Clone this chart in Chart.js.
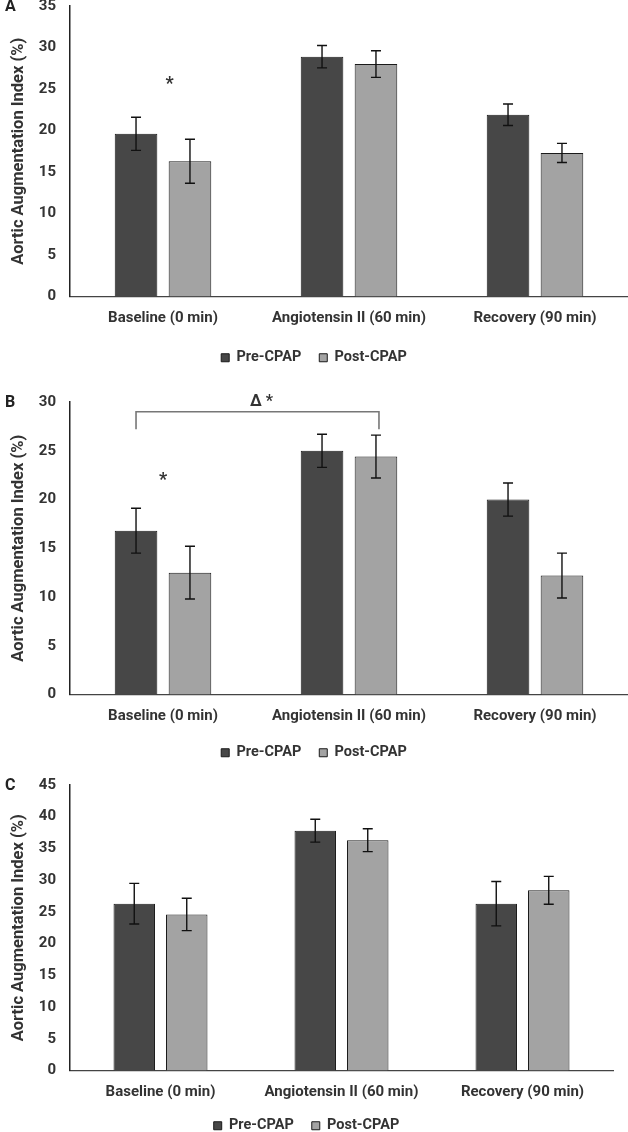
<!DOCTYPE html>
<html>
<head>
<meta charset="utf-8">
<script src="https://cdn.jsdelivr.net/npm/chart.js@4.4.1/dist/chart.umd.min.js"></script>
<style>
  body { margin: 0; background: #fff; width: 628px; height: 1132px; position: relative; overflow: hidden; }
  .panel { position: absolute; left: 0; width: 628px; }
</style>
</head>
<body>
<div class="panel" style="top:-17px;height:392px"><canvas id="chartA"></canvas></div>
<div class="panel" style="top:379px;height:391px"><canvas id="chartB"></canvas></div>
<div class="panel" style="top:762px;height:381px"><canvas id="chartC"></canvas></div>
<script>
// categories and series
const categories = ['Baseline (0 min)', 'Angiotensin II (60 min)', 'Recovery (90 min)'];
const seriesNames = ['Pre-CPAP', 'Post-CPAP'];

// panel A
const aPre = [19.6, 28.9, 21.9];
const aPreErr = [2.0, 1.35, 1.3];
const aPost = [16.3, 28.0, 17.3];
const aPostErr = [2.65, 1.6, 1.15];

// panel B
const bPre = [16.8, 25.0, 20.0];
const bPreErr = [2.3, 1.7, 1.7];
const bPost = [12.5, 24.4, 12.2];
const bPostErr = [2.7, 2.2, 2.3];

// panel C
const cPre = [26.3, 37.8, 26.3];
const cPreErr = [3.2, 1.8, 3.5];
const cPost = [24.6, 36.3, 28.4];
const cPostErr = [2.55, 1.8, 2.2];

// y axis ranges
const yMaxA = 35, yMaxB = 30, yMaxC = 45;

const FONT = 'Roboto, "DejaVu Sans", sans-serif';
const TXT = '#333';

// error bars + stars / bracket / panel letter
const extras = {
  id: 'extras',
  afterDatasetsDraw(chart, args, o) {
    const ctx = chart.ctx, ys = chart.scales.y, xs = chart.scales.x;
    ctx.save();
    // error bars
    ctx.strokeStyle = '#111';
    ctx.lineWidth = 1.4;
    chart.data.datasets.forEach((ds, i) => {
      chart.getDatasetMeta(i).data.forEach((bar, j) => {
        const t = ys.getPixelForValue(ds.data[j] + o.errors[i][j]);
        const b = ys.getPixelForValue(ds.data[j] - o.errors[i][j]);
        ctx.beginPath();
        ctx.moveTo(bar.x, t); ctx.lineTo(bar.x, b);
        ctx.moveTo(bar.x - 5, t); ctx.lineTo(bar.x + 5, t);
        ctx.moveTo(bar.x - 5, b); ctx.lineTo(bar.x + 5, b);
        ctx.stroke();
      });
    });
    // stars
    ctx.fillStyle = TXT;
    ctx.textAlign = 'center';
    ctx.textBaseline = 'middle';
    ctx.font = 'bold 18px ' + FONT;
    (o.stars || []).forEach(s => {
      ctx.fillText('*', xs.getPixelForValue(s.cat + s.dx), ys.getPixelForValue(s.value));
    });
    // bracket
    if (o.bracket) {
      const br = o.bracket;
      const x1 = chart.getDatasetMeta(br.from[0]).data[br.from[1]].x;
      const x2 = chart.getDatasetMeta(br.to[0]).data[br.to[1]].x + 3;
      const yt = ys.getPixelForValue(br.top), yb = ys.getPixelForValue(br.foot);
      ctx.strokeStyle = '#777';
      ctx.lineWidth = 1.6;
      ctx.beginPath();
      ctx.moveTo(x1, yb); ctx.lineTo(x1, yt); ctx.lineTo(x2, yt); ctx.lineTo(x2, yb);
      ctx.stroke();
      ctx.font = 'bold 16px ' + FONT;
      ctx.fillText(br.label, (x1 + x2) / 2 + 4, ys.getPixelForValue(br.labelValue));
    }
    // panel letter
    ctx.textAlign = 'left';
    ctx.font = 'bold 16px ' + FONT;
    ctx.fillStyle = '#222';
    ctx.fillText(o.letter, 5, ys.getPixelForValue(ys.max) + 1);
    ctx.restore();
  }
};

function makeChart(id, pre, post, preErr, postErr, yMax, marks, padRight, xHeight) {
  return new Chart(document.getElementById(id), {
    type: 'bar',
    data: {
      labels: categories,
      datasets: [
        { label: seriesNames[0], data: pre, backgroundColor: '#474747', borderColor: '#1a1a1a', borderWidth: 1,
          categoryPercentage: 0.58, barPercentage: 0.79 },
        { label: seriesNames[1], data: post, backgroundColor: '#a3a3a3', borderColor: '#1a1a1a', borderWidth: 1,
          categoryPercentage: 0.58, barPercentage: 0.79 }
      ]
    },
    options: {
      responsive: true,
      maintainAspectRatio: false,
      animation: false,
      layout: { padding: { top: 23, right: padRight, left: 0, bottom: 0 } },
      scales: {
        x: {
          grid: { display: false, drawTicks: false },
          border: { display: true, color: '#444', width: 1.2 },
          ticks: { color: TXT, padding: 13, font: { family: FONT, size: 15, weight: 'bold' } },
          afterFit(s) { s.height = xHeight; }
        },
        y: {
          min: 0, max: yMax,
          grid: { display: false, drawTicks: false },
          border: { display: true, color: '#222', width: 1.5 },
          ticks: { stepSize: 5, color: TXT, padding: 14, font: { family: FONT, size: 15, weight: 'bold' } },
          title: { display: true, text: 'Aortic Augmentation Index (%)', color: TXT,
                   padding: { top: 9, bottom: 0 }, font: { family: FONT, size: 16.5, weight: 'bold' } },
          afterFit(s) { s.width = 70; }
        }
      },
      plugins: {
        legend: {
          position: 'bottom',
          labels: { boxWidth: 8, boxHeight: 8, padding: 18, color: TXT,
                    font: { family: FONT, size: 14.5, weight: 'bold' } }
        },
        tooltip: { enabled: false },
        extras: {
          errors: [preErr, postErr],
          letter: marks.letter,
          stars: marks.stars,
          bracket: marks.bracket
        }
      }
    },
    plugins: [extras]
  });
}

makeChart('chartA', aPre, aPost, aPreErr, aPostErr, yMaxA,
  { letter: 'A', stars: [{ cat: 0, dx: 0.035, value: 25.6 }] }, 0, 36);

makeChart('chartB', bPre, bPost, bPreErr, bPostErr, yMaxB,
  { letter: 'B', stars: [{ cat: 0, dx: 0, value: 22.0 }],
    bracket: { from: [0, 0], to: [1, 1], top: 29.0, foot: 27.2, label: 'Δ *', labelValue: 30.0 } }, 0, 33);

makeChart('chartC', cPre, cPost, cPreErr, cPostErr, yMaxC,
  { letter: 'C', stars: [] }, 15, 30);
</script>
</body>
</html>
